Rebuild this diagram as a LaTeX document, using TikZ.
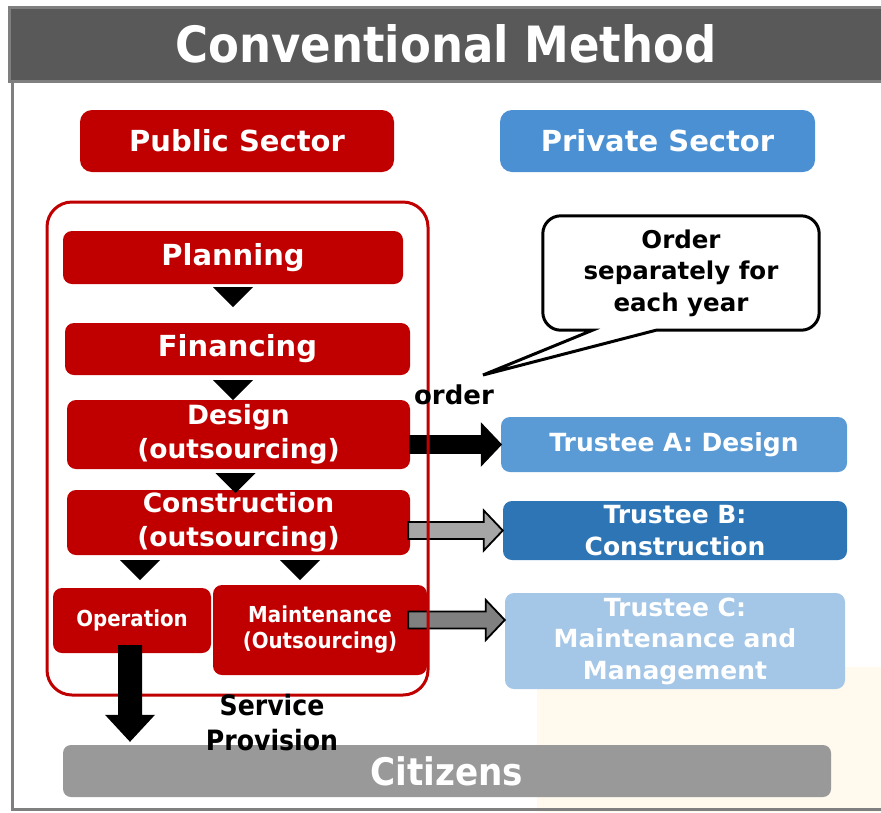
\documentclass[tikz,border=0pt]{standalone}
\usepackage{fontspec}
\setmainfont{DejaVu Sans}
\newfontfamily\condfont{DejaVu Sans Condensed}
\usetikzlibrary{calc}

\definecolor{pubred}{HTML}{C00000}
\definecolor{privblue}{HTML}{4A90D2}
\definecolor{blueA}{HTML}{5B9BD5}
\definecolor{blueB}{HTML}{2E75B6}
\definecolor{blueC}{HTML}{A4C6E7}
\definecolor{bargray}{HTML}{595959}
\definecolor{framegray}{HTML}{7F7F7F}
\definecolor{citgray}{HTML}{999999}
\definecolor{arrgray}{HTML}{A6A6A6}
\definecolor{arrdark}{HTML}{808080}
\definecolor{paleyellow}{HTML}{FFF9EE}

\newcommand\fsz[2]{\fontsize{#1}{#2}\selectfont}

% block arrow: fill, start, end (height taken from the end)
\newcommand\blockarrow[3]{%
  \draw[line width=1.8pt, line join=miter, fill=#1] let \p1=#2, \p2=#3 in
    (\x1,\y2+8.5pt) -- (\x2-19pt,\y2+8.5pt) -- (\x2-19pt,\y2+20pt) -- (\x2,\y2)
    -- (\x2-19pt,\y2-20pt) -- (\x2-19pt,\y2-8.5pt) -- (\x1,\y2-8.5pt) -- cycle;}
% small black triangle between two steps
\newcommand\flowtri[1]{\fill #1 ++(-20,0) -- ++(40,0) -- ++(-20,20) -- cycle;}

\tikzset{
  box/.style={rectangle, rounded corners=9pt, inner sep=0pt, align=center, text=white},
  redbox/.style={box, fill=pubred},
  bigtxt/.style={font=\bfseries\fsz{29}{35}},
  midtxt/.style={font=\bfseries\fsz{26.5}{34}},
  smalltxt/.style={font=\condfont\bfseries\fsz{22}{26}},
  trustee/.style={box, font=\bfseries\fsz{25}{31.5}},
  titlebar/.style={rectangle, fill=bargray, draw=framegray, line width=3pt, text=white,
    minimum width=874pt, minimum height=74pt, font=\condfont\bfseries\fsz{50}{60}},
}

\begin{document}
\begin{tikzpicture}[x=1pt, y=-1pt]
\useasboundingbox (0,0) rectangle (881,812);
\fill[paleyellow] (537,667) rectangle (881,812);

% frame and title
\draw[framegray, line width=3pt] (12.5,81) -- (12.5,809.5) -- (881,809.5);
\node[titlebar] (title) at (446,44) {Conventional Method};

% sectors
\node[redbox, bigtxt, rounded corners=12pt, minimum width=314pt, minimum height=62pt] (pub) at (237,141) {Public Sector};
\node[box, bigtxt, fill=privblue, rounded corners=12pt, minimum width=315pt, minimum height=62pt] (priv) at (657.5,141) {Private Sector};

% public steps
\node[redbox, bigtxt, minimum width=340pt, minimum height=53pt] (plan) at (233,257.5) {Planning};
\node[redbox, bigtxt, minimum width=345pt, minimum height=52pt] (fin) at (237.5,349) {Financing};
\node[redbox, midtxt, minimum width=343pt, minimum height=69pt] (design) at (238.5,434.5) {Design\\(outsourcing)};
\node[redbox, midtxt, minimum width=343pt, minimum height=65pt] (constr) at (238.5,522.5) {Construction\\(outsourcing)};
\node[redbox, smalltxt, minimum width=158pt, minimum height=65pt] (oper) at (132,620.5) {Operation};
\node[redbox, smalltxt, minimum width=214pt, minimum height=90pt] (maint) at (320,630) {Maintenance\\(Outsourcing)};

\flowtri{($(plan.south)+(0,3)$)}
\flowtri{($(fin.south -| plan.south)+(0,5)$)}
\flowtri{($(design.south)+(-3,4)$)}
\flowtri{($(constr.south -| oper.south)+(8,5)$)}
\flowtri{($(constr.south -| maint.south)+(-20,5)$)}

% trustees
\node[trustee, fill=blueA, minimum width=346pt, minimum height=55pt] (trA) at (674,444.5) {Trustee A: Design};
\node[trustee, fill=blueB, minimum width=344pt, minimum height=59pt] (trB) at (675,530.5) {Trustee B:\\Construction};
\node[trustee, fill=blueC, minimum width=340pt, minimum height=96pt] (trC) at (675,641) {Trustee C:\\Maintenance and\\Management};

\blockarrow{black}{(design.east)}{(trA.west)}
\blockarrow{arrgray}{($(constr.east)+(-2,0)$)}{(trB.west)}
\blockarrow{arrdark}{($(maint.east)+(-19,0)$)}{($(trC.west)+(0,-21)$)}

\draw[pubred, line width=3pt, rounded corners=25pt] (47,202) rectangle (428,695);

% callout
\node[align=center, inner sep=0pt, minimum width=276pt, minimum height=114pt, font=\bfseries\fsz{24.5}{31.5}] (note) at (681,273) {Order\\separately for\\each year};
\node[font=\bfseries\fsz{26}{30}, inner sep=0pt] (order) at (454,395) {order};
\coordinate (tip) at (483,375);
\draw[line width=3pt, rounded corners=18pt] (note.north west) -- (note.north east) -- (note.south east)
  [sharp corners] -- ($(note.south west)!0.41!(note.south east)$) -- (tip)
  -- ($(note.south west)!0.18!(note.south east)$) [rounded corners=18pt] -- (note.south west) -- cycle;

% citizens
\node[box, fill=citgray, rounded corners=8pt, minimum width=768pt, minimum height=52pt, font=\condfont\bfseries\fsz{38}{44}] (citizens) at (447,771) {Citizens};
\fill let \p1=(oper.south), \p2=(citizens.north) in
  (\x1-14pt,\y1+8pt) -- (\x1+10pt,\y1+8pt) -- (\x1+10pt,\y2+30pt) -- (\x1+23pt,\y2+30pt)
  -- (\x1-2pt,\y2+3pt) -- (\x1-27pt,\y2+30pt) -- (\x1-14pt,\y2+30pt) -- cycle;
\node[align=center, inner sep=0pt, font=\condfont\bfseries\fsz{28}{35}] (service) at (272,723) {Service\\Provision};
\end{tikzpicture}
\end{document}
